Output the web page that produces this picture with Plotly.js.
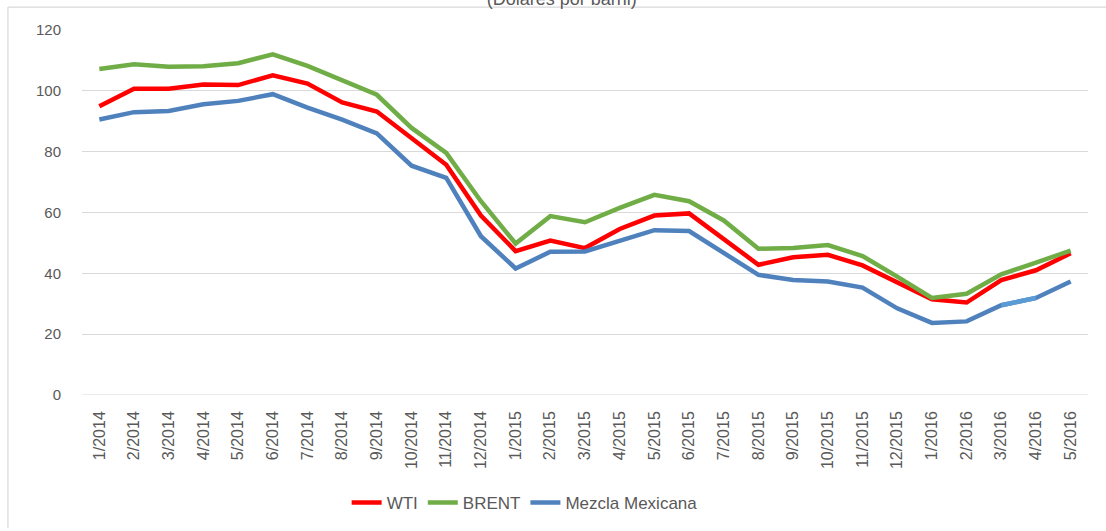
<!DOCTYPE html>
<html>
<head>
<meta charset="utf-8">
<script src="https://cdn.plot.ly/plotly-3.0.1.min.js"></script>
<style>
html,body{margin:0;padding:0;background:#fff;}
#chart{width:1106px;height:531px;}
</style>
</head>
<body>
<div id="chart"></div>
<script>
var months = ["1/2014","2/2014","3/2014","4/2014","5/2014","6/2014","7/2014","8/2014","9/2014","10/2014","11/2014","12/2014",
              "1/2015","2/2015","3/2015","4/2015","5/2015","6/2015","7/2015","8/2015","9/2015","10/2015","11/2015","12/2015",
              "1/2016","2/2016","3/2016","4/2016","5/2016"];
var wti = [94.9,100.7,100.7,102.1,101.9,105.1,102.4,96.2,93.2,84.3,75.7,59.0,
           47.3,50.8,48.3,54.6,59.0,59.7,51.3,42.8,45.3,46.1,42.6,37.0,
           31.5,30.4,37.8,41.0,46.6];
var brent = [107.2,108.7,107.9,108.1,109.1,112.0,108.2,103.4,98.7,87.8,79.6,63.7,
             49.8,58.8,56.8,61.5,65.8,63.7,57.4,48.1,48.3,49.3,45.7,38.9,
             31.9,33.3,39.7,43.5,47.5];
var mezcla = [90.6,93.0,93.4,95.6,96.7,98.9,94.5,90.5,86.0,75.4,71.4,52.2,
              41.6,47.1,47.2,50.6,54.2,53.9,46.8,39.5,37.8,37.3,35.3,28.5,
              23.7,24.2,29.5,31.9,37.3];
var seriesNames = ["WTI","BRENT","Mezcla Mexicana"];
var yTicks = [0,20,40,60,80,100,120];
var titleText = "(Dólares por barril)";

var FONT = "Liberation Sans, Arial, sans-serif";
var GRAY = "#595959";

var traces = [
  {x: months, y: wti, name: seriesNames[0], type: "scatter", mode: "lines",
   line: {color: "#FF0000", width: 4.5}},
  {x: months, y: brent, name: seriesNames[1], type: "scatter", mode: "lines",
   line: {color: "#70AD47", width: 4.5}},
  {x: months, y: mezcla, name: seriesNames[2], type: "scatter", mode: "lines",
   line: {color: "#4F81BD", width: 4.5}},
  {x: months.slice(26, 28), y: mezcla.slice(26, 28), name: seriesNames[2], type: "scatter", mode: "lines",
   showlegend: false, hoverinfo: "skip",
   line: {color: "#5B9BD5", width: 4.5}}
];

var layout = {
  width: 1106, height: 531,
  margin: {l: 82, r: 18, t: 30, b: 134.5, pad: 0},
  paper_bgcolor: "#ffffff",
  plot_bgcolor: "#ffffff",
  font: {family: FONT, color: GRAY, size: 15},
  title: {text: titleText, x: 0.508, xanchor: "center", y: 0.991, yanchor: "bottom",
          font: {family: FONT, size: 18, color: GRAY}},
  showlegend: true,
  legend: {orientation: "h", x: 0.44, xanchor: "center", y: -0.292, yanchor: "middle",
           font: {family: FONT, size: 17, color: GRAY}, itemwidth: 30, traceorder: "normal"},
  xaxis: {type: "category", range: [-0.5, months.length - 0.5], tickangle: -90,
          tickfont: {family: FONT, size: 16, color: GRAY},
          showgrid: false, showline: false, zeroline: false, ticks: "", ticklabelstandoff: 12,
          fixedrange: true},
  yaxis: {range: [0, 120], tickvals: yTicks, ticktext: yTicks.map(String),
          tickfont: {family: FONT, size: 15, color: GRAY},
          showgrid: true, gridcolor: "#D9D9D9", gridwidth: 1, zeroline: false, showline: false,
          ticks: "", ticklabelstandoff: 20, fixedrange: true},
  shapes: [
    {type: "line", xref: "paper", yref: "paper", x0: -0.0736, x1: -0.0736, y0: -0.365, y1: 1.0628,
     line: {color: "#D9D9D9", width: 1.2}},
    {type: "line", xref: "paper", yref: "paper", x0: -0.0736, x1: 1.03, y0: 1.0628, y1: 1.0628,
     line: {color: "#D9D9D9", width: 1.2}},
    {type: "line", xref: "paper", yref: "y", x0: 0, x1: 1, y0: 0, y1: 0,
     line: {color: "#D9D9D9", width: 1}}
  ]
};

Plotly.newPlot("chart", traces, layout, {displayModeBar: false, staticPlot: true});
</script>
</body>
</html>
